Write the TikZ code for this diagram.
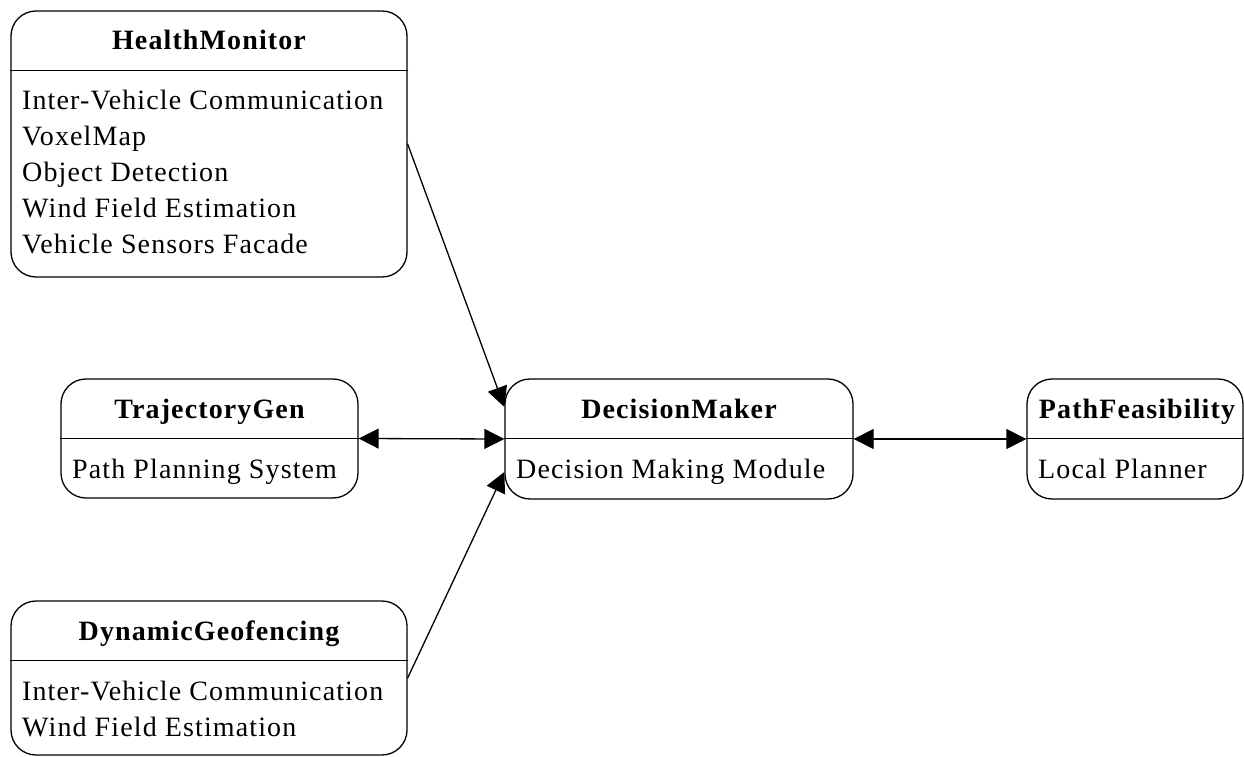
\documentclass[tikz,border=0pt]{standalone}
\usepackage{fontspec}
\setmainfont[LetterSpace=4]{Liberation Serif}
\usetikzlibrary{arrows.meta}

\begin{document}
\begin{tikzpicture}
		[x=1pt,y=1pt,line cap=round,
		%Styles
		class box/.style={draw,line width=1.3pt,rounded corners=25pt,inner sep=0pt},
		class title/.style={anchor=base,inner sep=0pt,font=\fontsize{28}{36}\selectfont\bfseries},
		member text/.style={anchor=base west,inner sep=0pt,font=\fontsize{28}{36}\selectfont},
		divider/.style={line width=1.3pt},
		link/.style={line width=1.3pt,-{Triangle[length=20pt,width=20pt]}},
		both link/.style={line width=1.3pt,{Triangle[length=20pt,width=20pt]}-{Triangle[length=20pt,width=20pt]}}
		]
		\useasboundingbox (0,0) rectangle (1244,756);
		
		%The boxes
		\node[class box,minimum width=396pt,minimum height=266pt] (hm) at (209, 612) {};
		\node[class box,minimum width=297pt,minimum height=119pt] (tg) at (209.5, 317.5) {};
		\node[class box,minimum width=348pt,minimum height=120pt] (dm) at (679, 317) {};
		\node[class box,minimum width=216pt,minimum height=120pt] (pf) at (1135, 317) {};
		\node[class box,minimum width=396pt,minimum height=154pt] (dg) at (209, 78) {};
		
		%Dividers
		\draw[divider] ([yshift=-60pt]hm.north west) -- ([yshift=-60pt]hm.north east);
		\draw[divider] ([yshift=-60pt]tg.north west) -- ([yshift=-60pt]tg.north east);
		\draw[divider] ([yshift=-60pt]dm.north west) -- ([yshift=-60pt]dm.north east);
		\draw[divider] ([yshift=-60pt]pf.north west) -- ([yshift=-60pt]pf.north east);
		\draw[divider] ([yshift=-60pt]dg.north west) -- ([yshift=-60pt]dg.north east);
		
		%Titles
		\node[class title] (hm title) at (209, 706) {HealthMonitor};
		\node[class title] (tg title) at (209.5, 338) {TrajectoryGen};
		\node[class title] (dm title) at (679, 338) {DecisionMaker};
		\node[class title] (pf title) at (1137, 338) {PathFeasibility};
		\node[class title] (dg title) at (209, 116) {DynamicGeofencing};
		
		%Members
		\node[member text] (hm 1) at (22, 646) {Inter-Vehicle Communication};
		\node[member text] (hm 2) at (22, 610) {VoxelMap};
		\node[member text] (hm 3) at (22, 574) {Object Detection};
		\node[member text] (hm 4) at (22, 538) {Wind Field Estimation};
		\node[member text] (hm 5) at (22, 502) {Vehicle Sensors Facade};
		\node[member text] (tg 1) at (72, 278) {Path Planning System};
		\node[member text] (dm 1) at (516, 278) {Decision Making Module};
		\node[member text] (pf 1) at (1038, 278) {Local Planner};
		\node[member text] (dg 1) at (22, 56) {Inter-Vehicle Communication};
		\node[member text] (dg 2) at (22, 20) {Wind Field Estimation};
		
		%Connectors
		\coordinate (dm in hm) at ([yshift=32pt]dm.west);
		\coordinate (dm in dg) at ([yshift=-33pt]dm.west);
		\draw[link] (hm.east) -- (dm in hm);
		\draw[link] (dg.east) -- (dm in dg);
		\draw[both link] (tg.east) -- (dm.west);
		\draw[both link] (dm.east) -- (pf.west);
	\end{tikzpicture}
\end{document}
